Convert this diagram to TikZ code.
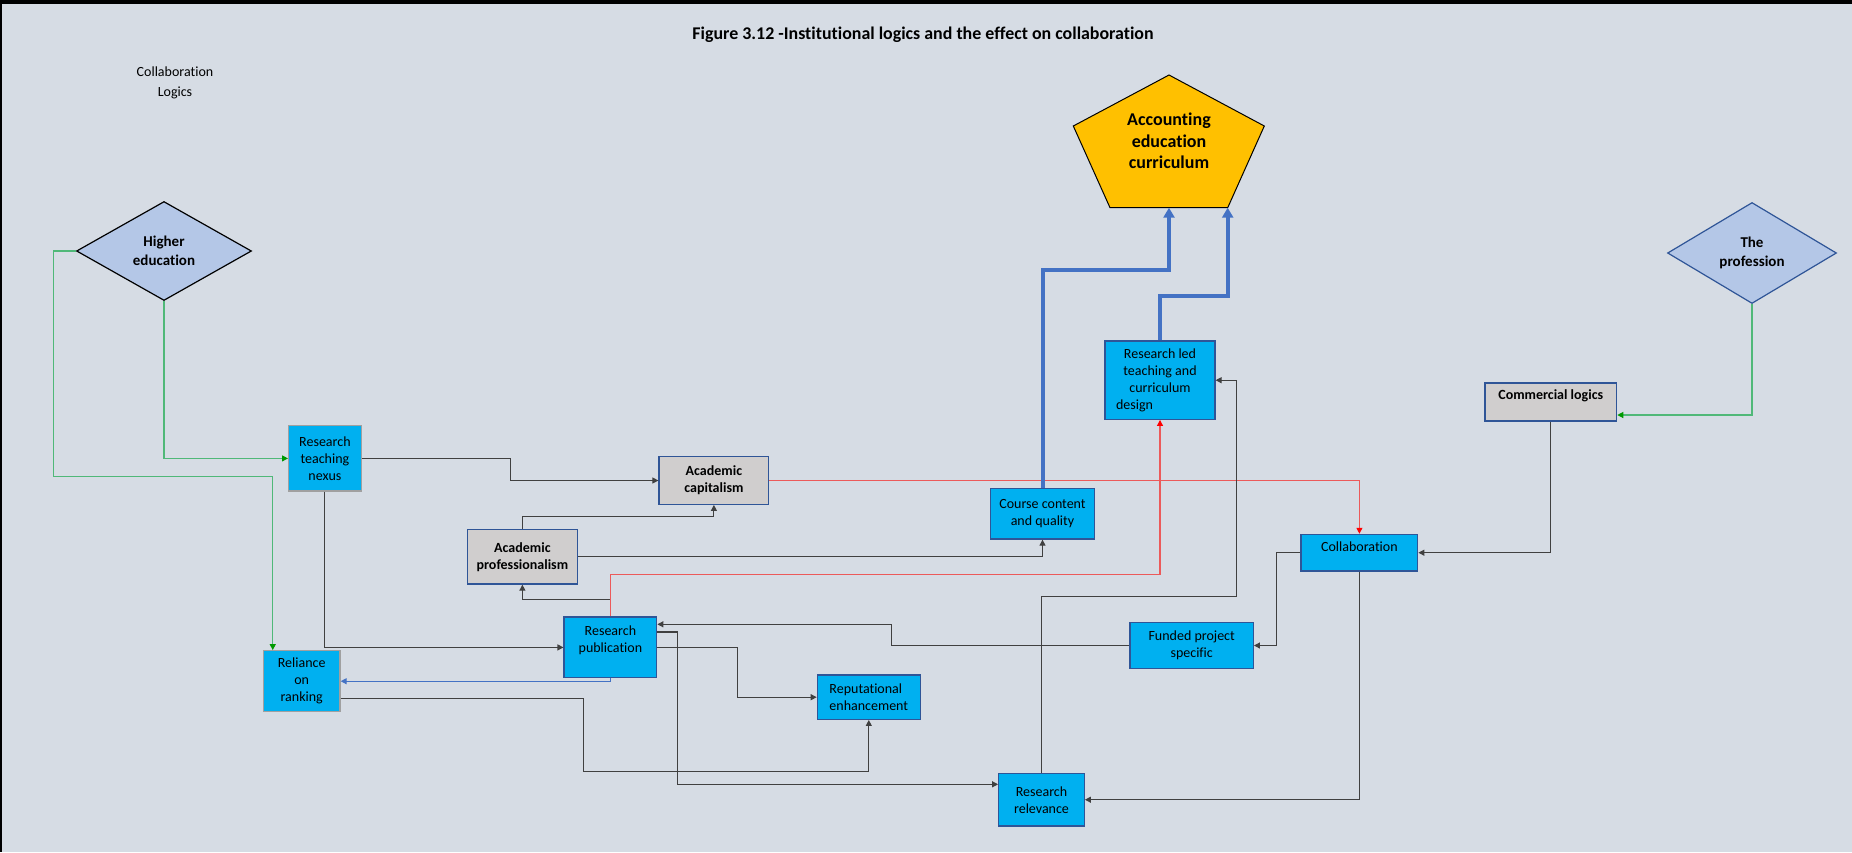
\documentclass[tikz,border=0pt]{standalone}
\usepackage{fontspec}
\setmainfont{Carlito}[Ligatures=NoCommon]
\usetikzlibrary{shapes.geometric,arrows.meta}

\definecolor{bgfill}{RGB}{214,220,228}
\definecolor{cyanfill}{RGB}{0,176,240}
\definecolor{greyfill}{RGB}{208,206,206}
\definecolor{boxline}{RGB}{47,85,151}
\definecolor{nexusline}{RGB}{160,160,160}
\definecolor{diamfill}{RGB}{180,199,231}
\definecolor{penfill}{RGB}{255,192,0}
\definecolor{linkgrey}{RGB}{64,64,64}
\definecolor{linkred}{RGB}{236,90,90}
\definecolor{linkgreen}{RGB}{80,184,120}
\definecolor{linkblue}{RGB}{68,114,196}

\tikzset{every picture/.style={line width=0.75pt}}
\tikzset{
  factor/.style={draw=boxline,fill=cyanfill,line width=1.2pt,align=center,inner sep=2pt,
    font=\fontsize{14}{17}\selectfont},
  logic/.style={factor,fill=greyfill,font=\fontsize{14}{17}\selectfont\bfseries},
  diam/.style={diamond,aspect=2,fill=diamfill,line width=1.2pt,align=center,inner sep=0pt,
    font=\fontsize{15}{19}\selectfont\bfseries},
  link/.style={draw=linkgrey,line width=1.1pt,-{Triangle[length=6pt,width=6pt]}},
  redlink/.style={link,draw=linkred,-{Triangle[length=6pt,width=6pt,color=red]}},
  greenlink/.style={link,draw=linkgreen,-{Triangle[length=6pt,width=6pt,color=green!60!black]}},
  bluelink/.style={link,draw=linkblue},
  thicklink/.style={draw=linkblue,line width=4pt,-{Triangle[length=10pt,width=11pt]}}
}

\begin{document}
\begin{tikzpicture}[x=1pt,y=1pt,yscale=-1,xscale=1]
\useasboundingbox (0,0) rectangle (1852,852);

%Shape: Rectangle
\fill[bgfill] (0,0) rectangle (1852,852);
\draw[line width=4pt] (0,2) -- (1852,2);
\draw[line width=2pt] (1,0) -- (1,852);

% Text Node
\node[font=\fontsize{17.9}{22}\selectfont\bfseries] (title) at (923,35) {Figure 3.12 -Institutional logics and the effect on collaboration};
% Text Node
\node[align=center,font=\fontsize{14}{20}\selectfont] (legend) at (175,83) {Collaboration\\Logics};

%Shape: Diamond
\node[diam,draw=black,minimum width=175pt,minimum height=99pt] (hied) at (164,251) {Higher\\education};
%Shape: Diamond
\node[diam,draw=boxline,minimum width=169pt,minimum height=101pt] (profsn) at (1752,253) {The\\profession};

%Shape: Pentagon
\draw[fill=penfill,line width=1pt] (1169,75) -- (1264.3,126) -- (1227.7,207.7) -- (1110,207.7) -- (1073.3,126) -- cycle;
\node[align=center,font=\fontsize{18}{21.5}\selectfont\bfseries] (acc) at (1169,141) {Accounting\\education\\curriculum};
\coordinate (accL) at (1169,207.7);
\coordinate (accR) at (1227.7,207.7);

%Shape: Rectangle
\node[factor,draw=nexusline,minimum width=72.6pt,minimum height=65.3pt] (nexus) at (324.9,458.4) {Research\\teaching\\nexus};
\node[logic,minimum width=109.8pt,minimum height=47.6pt] (acapital) at (713.9,480.5) {Academic\\capitalism};
\node[logic,minimum width=109.8pt,minimum height=54.3pt] (aprof) at (522.4,556.9) {Academic\\professionalism};
\node[factor,minimum width=92.7pt,minimum height=60.7pt] (pubn) at (610.4,647.4) {Research\\publication\\\mbox{}};
\node[factor,draw=nexusline,minimum width=76.7pt,minimum height=61pt] (ranking) at (301.7,681.2) {Reliance\\on\\ranking};
\node[factor,align=left,minimum width=103pt,minimum height=44.3pt] (reput) at (868.8,697.2) {Reputational\\enhancement};
\node[factor,minimum width=85.6pt,minimum height=52.7pt] (relev) at (1041.5,799.7) {Research\\relevance};
\node[factor,minimum width=104.4pt,minimum height=50.3pt] (course) at (1042.5,513.9) {Course content\\and quality};
\node[factor,minimum width=110pt,minimum height=78.3pt] (rled) at (1160,380.2) {Research led\\teaching and\\curriculum\\design\hspace*{51pt}};
\node[factor,text depth=13pt,minimum width=116.7pt,minimum height=36.7pt] (collab) at (1359.4,552.7) {Collaboration};
\node[factor,minimum width=123.3pt,minimum height=45.6pt] (funded) at (1191.7,645.5) {Funded project\\specific};
\node[logic,text depth=15pt,minimum width=131.7pt,minimum height=38pt] (commlog) at (1550.8,402) {Commercial logics};

%Straight Lines
\draw[greenlink] (hied.south) |- (nexus.west);
\draw[greenlink] (hied.west) -- ++(-22.4,0) -- ++(0,225.4) -| ([xshift=10pt]ranking.north west);
\draw[greenlink] (profsn.south) |- ([yshift=13pt]commlog.east);
\draw[link] (nexus.east) -- ++(149.1,0) |- (acapital.west);
\draw[link] (nexus.south) |- (pubn.west);
\draw[link] (aprof.north) -- ++(0,-12.7) -| (acapital.south);
\draw[link] (aprof.east) -| (course.south);
\draw[link] (pubn.north) -- ++(0,-17) -| (aprof.south);
\draw[redlink] (pubn.north) -- ++(0,-41.7) -| (rled.south);
\draw[redlink] (acapital.east) -| (collab.north);
\draw[bluelink] (pubn.south) |- (ranking.east);
\draw[link] ([yshift=-15.4pt]pubn.east) -- ++(20,0) |- ([yshift=-15.4pt]relev.west);
\draw[link] (pubn.east) -- ++(80,0) |- (reput.west);
\draw[link] ([yshift=17.1pt]ranking.east) -| (583.3,771.7) -| (reput.south);
\draw[link] (funded.west) -- ++(-238.3,0) |- ([yshift=-23.1pt]pubn.east);
\draw[link] (relev.north) -- ++(0,-176.6) -- ++(195.2,0) |- (rled.east);
\draw[link] (commlog.south) |- (collab.east);
\draw[link] (collab.west) -- ++(-23.7,0) |- (funded.east);
\draw[link] (collab.south) |- (relev.east);
\draw[thicklink] (course.north) -- ++(0,-217.7) -| (accL);
\draw[thicklink] (rled.north) -- ++(0,-44) -| (accR);

\end{tikzpicture}
\end{document}
